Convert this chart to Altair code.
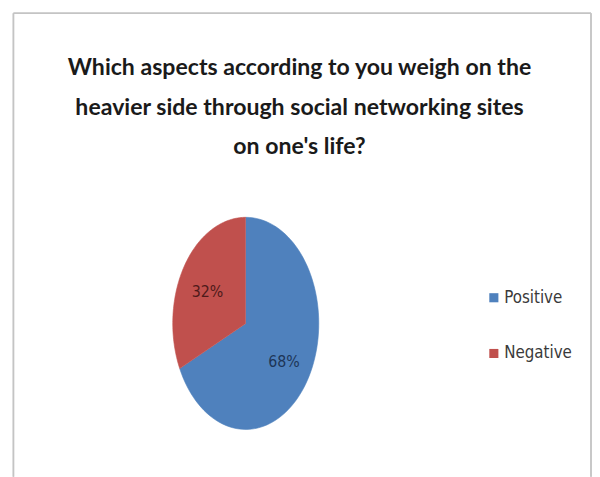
import altair as alt
import pandas as pd

categories = ["Positive", "Negative"]
values = [68, 32]
labels = ["68%", "32%"]
colors = ["#4F81BD", "#C0504D"]
label_colors = ["#1d3557", "#4e1a1a"]
title_lines = [
    "Which aspects according to you weigh on the",
    "heavier side through social networking sites",
    "on one's life?",
]

df = pd.DataFrame({
    "cat": categories,
    "value": values,
    "label": labels,
    "order": list(range(len(categories))),
})

FONT = "Liberation Sans Narrow, DejaVu Sans Condensed, Roboto Condensed, Liberation Sans"
TFONT = "Lato"

xs = alt.Scale(domain=[-3.257, 4.743], nice=False, zero=False)
ys = alt.Scale(domain=[-1.4186, 1.437], nice=False, zero=False)
cscale = alt.Scale(domain=categories, range=colors)

base = alt.Chart(df).transform_window(
    cum="sum(value)", frame=[None, 0], sort=[{"field": "order"}]
).transform_joinaggregate(
    total="sum(value)"
).transform_calculate(
    start="(datum.cum - datum.value) / datum.total",
    end="datum.cum / datum.total",
)

N = 90
poly = base.transform_calculate(
    steps=f"sequence(-1, {N + 1})"
).transform_flatten(["steps"]).transform_calculate(
    ang=f"(datum.start + (datum.end - datum.start) * max(datum.steps, 0) / {N}) * 2 * PI",
).transform_calculate(
    px="datum.steps < 0 ? 0 : sin(datum.ang)",
    py="datum.steps < 0 ? 0 : cos(datum.ang)",
).mark_line(strokeWidth=0.6, interpolate="linear").encode(
    x=alt.X("px:Q", scale=xs, axis=None),
    y=alt.Y("py:Q", scale=ys, axis=None),
    order=alt.Order("steps:Q"),
    fill=alt.Fill(
        "cat:N", scale=cscale, sort=categories,
        legend=alt.Legend(
            title=None, orient="none", legendX=484, legendY=120,
            symbolType="square", symbolSize=85, symbolStrokeWidth=0,
            labelFont=FONT, labelFontSize=17, labelColor="#3a3a3a",
            rowPadding=38.5, labelOffset=2,
        ),
    ),
    stroke=alt.Stroke("cat:N", scale=cscale, legend=None),
)

txt = base.transform_calculate(
    mid="(datum.start + datum.end) / 2 * 2 * PI",
).transform_calculate(
    lx="0.62 * sin(datum.mid)",
    ly="0.62 * cos(datum.mid)",
).mark_text(font=FONT, fontSize=16, dy=4).encode(
    x=alt.X("lx:Q", scale=xs, axis=None),
    y=alt.Y("ly:Q", scale=ys, axis=None),
    text="label:N",
    color=alt.Color("cat:N", scale=alt.Scale(domain=categories, range=label_colors), legend=None),
)

border_top = alt.Chart(df).mark_rule(color="#c4c4c4", strokeWidth=1.5).encode(
    x=alt.value(5.5), x2=alt.value(591), y=alt.value(-160)
)
border_left = alt.Chart(df).mark_rule(color="#c4c4c4", strokeWidth=1.5).encode(
    x=alt.value(5.5), y=alt.value(-160), y2=alt.value(310)
)
border_right = alt.Chart(df).mark_rule(color="#c4c4c4", strokeWidth=1.5).encode(
    x=alt.value(591), y=alt.value(-160), y2=alt.value(310)
)

chart = alt.layer(poly, txt, border_top, border_left, border_right).properties(
    width=592,
    height=307,
    padding={"left": 0, "right": 0, "top": 162, "bottom": 0},
    autosize=alt.AutoSizeParams(type="none"),
    background="white",
    title=alt.Title(
        text=title_lines, font=TFONT, fontSize=23.4, fontWeight="bold",
        lineHeight=40, anchor="middle", color="#1a1a1a", offset=-172,
        baseline="bottom", dx=-0.5,
    ),
).configure_view(stroke="transparent")

chart.save("out.html", embed_options={"renderer": "svg", "actions": False})
